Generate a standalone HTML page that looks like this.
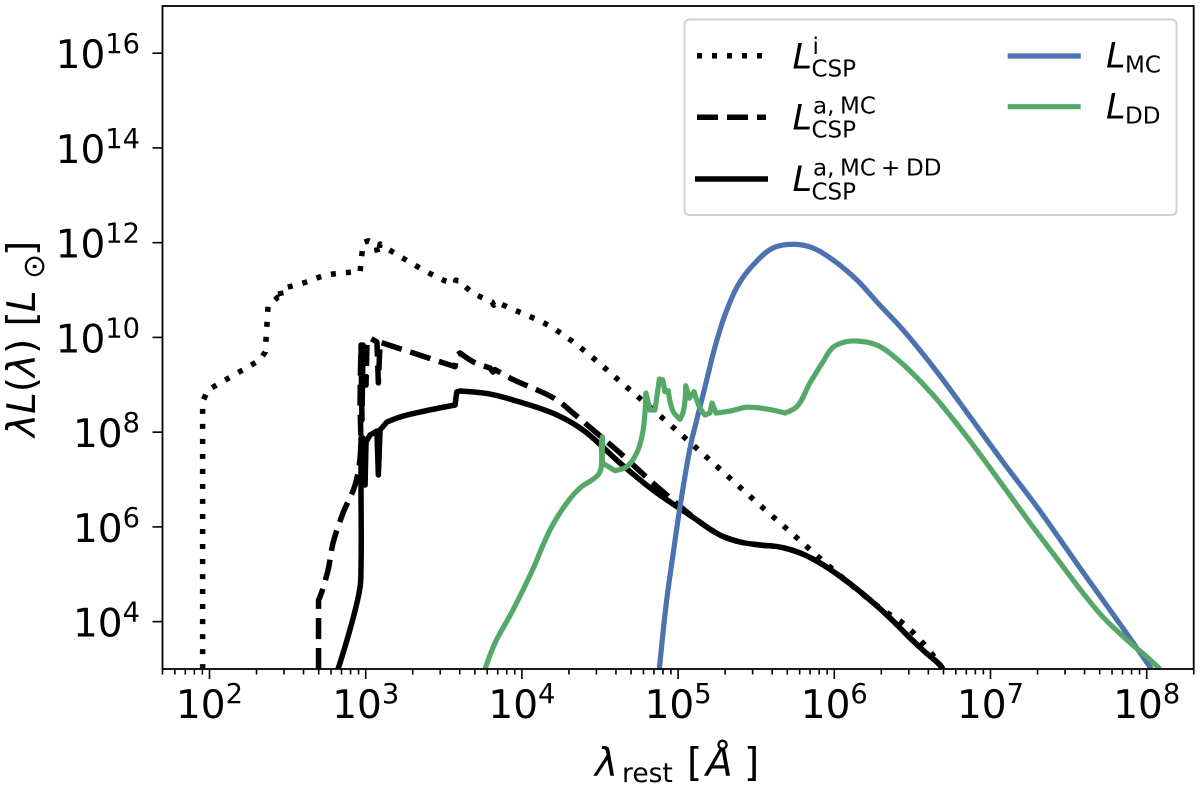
<!DOCTYPE html>
<html lang="en">
<head>
<meta charset="utf-8">
<title>Luminosity spectrum</title>
<style>
  html, body { margin: 0; padding: 0; background: #fff; }
  svg { display: block; font-family: "DejaVu Sans", "Liberation Sans", sans-serif; fill: #000; }
  .curve { fill: none; stroke-linejoin: round; stroke-linecap: butt; }
  .i { font-style: italic; }
</style>
</head>
<body>
<svg id="chart" xmlns="http://www.w3.org/2000/svg" width="1200" height="788" viewBox="0 0 1200 788">
  <defs>
    <clipPath id="plot-clip"><rect x="162.5" y="6" width="1031.2" height="663"></rect></clipPath>
  </defs>
  <rect x="0" y="0" width="1200" height="788" fill="#fff"></rect>
  <g id="series" clip-path="url(#plot-clip)"></g>
  <g id="ticks"></g>
  <rect x="162.5" y="6" width="1031.2" height="663" fill="none" stroke="#000" stroke-width="1.8"></rect>

  <text x="595" y="776" font-size="39"><tspan class="i">λ</tspan><tspan x="622" y="782" font-size="26.5">rest</tspan><tspan x="687" y="776">[</tspan><tspan class="i" x="706" y="776">Å</tspan><tspan x="744" y="776">]</tspan></text>

  <g transform="translate(35,437) rotate(-90)" font-size="39">
    <text x="0" y="0"><tspan class="i">λL</tspan>(<tspan class="i">λ</tspan>)<tspan x="110.5" y="0">[</tspan><tspan class="i" x="125" y="0">L</tspan><tspan x="158" y="9" font-size="30">⊙</tspan><tspan x="181" y="0">]</tspan></text>
  </g>

  <g>
    <rect x="684.5" y="19.5" width="492" height="195.5" rx="5" ry="5" fill="#fff" fill-opacity="0.9" stroke="#d0d0d0" stroke-width="2"></rect>

    <g>
      <line x1="697" y1="55.7" x2="764" y2="55.7" stroke="#000" stroke-width="5.5" stroke-dasharray="5 10"></line>
      <text x="792.5" y="68.3" font-size="35" class="i">L</text>
      <text x="812.5" y="54" font-size="23">i</text>
      <text x="811.5" y="76.7" font-size="23">CSP</text>
    </g>
    <g>
      <line x1="697" y1="117.3" x2="766" y2="117.3" stroke="#000" stroke-width="5.5" stroke-dasharray="21 9"></line>
      <text x="792.5" y="129.3" font-size="35" class="i">L</text>
      <text x="813" y="113.3" font-size="23">a,<tspan x="840">MC</tspan></text>
      <text x="811.5" y="137.3" font-size="23">CSP</text>
    </g>
    <g>
      <line x1="695" y1="179" x2="768" y2="179" stroke="#000" stroke-width="5.5"></line>
      <text x="792.5" y="191" font-size="35" class="i">L</text>
      <text x="813" y="175.7" font-size="23">a,<tspan x="840">MC</tspan><tspan x="881">+</tspan><tspan x="906">DD</tspan></text>
      <text x="811.5" y="199.3" font-size="23">CSP</text>
    </g>
    <g>
      <line x1="1007.7" y1="56" x2="1080.7" y2="56" stroke="#4C72B0" stroke-width="5.2"></line>
      <text x="1106" y="67.3" font-size="35" class="i">L</text>
      <text x="1125" y="72.3" font-size="23">MC</text>
    </g>
    <g>
      <line x1="1007.7" y1="106.7" x2="1080.7" y2="106.7" stroke="#55A868" stroke-width="5.2"></line>
      <text x="1106" y="118.3" font-size="35" class="i">L</text>
      <text x="1125" y="123.3" font-size="23">DD</text>
    </g>
  </g>

<script>
// Values are log10(wavelength / Angstrom) and log10(luminosity / Lsun).
var xTickExponents = [2, 3, 4, 5, 6, 7, 8];
var yTickExponents = [4, 6, 8, 10, 12, 14, 16];
var minorMultipliers = [2, 3, 4, 5, 6, 7, 8, 9];
var minorDecades = [1, 2, 3, 4, 5, 6, 7, 8];

var intrinsicLogWave = [1.956,1.956,1.990,2.323,2.357,2.375,2.419,2.437,2.465,2.451,2.599,2.752,2.964,2.974,2.985,3.017,3.066,3.079,3.092,3.497,3.572,3.578,3.604,3.687,3.809,3.820,3.834,3.924,4.199,4.737,5.160,5.588,6.293,6.453,6.677,6.690];
var intrinsicLogLum  = [3.000,8.643,8.890,9.523,9.692,10.663,10.790,10.850,10.770,11.020,11.149,11.318,11.387,11.704,12.000,12.040,11.950,11.740,11.970,11.210,11.130,11.210,11.176,10.940,10.750,10.680,10.750,10.620,10.197,8.763,7.539,6.272,4.288,3.929,3.084,3.000];

var attenMcLogWave = [2.698,2.698,2.707,2.759,2.791,2.855,2.932,2.964,2.964,2.970,2.976,2.983,3.002,3.008,3.028,3.072,3.081,3.092,3.572,3.583,3.604,3.687,3.796,3.815,3.828,3.924,4.225,4.327,4.628,4.839,5.121,5.204,5.281,5.396,5.524,5.652,5.781,5.909,6.069,6.229,6.357,6.485,6.581,6.677,6.696];
var attenMcLogLum  = [3.000,4.457,4.520,5.090,5.660,6.293,6.884,7.454,8.679,9.840,8.256,9.840,8.995,9.840,9.987,9.903,9.040,9.900,9.382,9.629,9.671,9.487,9.354,9.270,9.320,9.143,8.679,8.404,7.560,6.926,6.145,5.955,5.808,5.681,5.618,5.575,5.449,5.238,4.879,4.457,4.077,3.654,3.359,3.084,3.000];

var attenMcDdLogWave = [2.823,2.964,2.970,2.970,2.970,2.976,2.983,2.996,3.002,3.028,3.072,3.081,3.092,3.136,3.220,3.348,3.572,3.583,3.604,3.796,3.943,4.225,4.391,4.628,4.839,5.121,5.204,5.281,5.396,5.524,5.652,5.781,5.909,6.069,6.229,6.357,6.485,6.581,6.677,6.696];
var attenMcDdLogLum  = [3.000,4.731,5.153,6.779,7.877,6.884,7.877,6.884,7.792,7.940,8.024,7.095,8.045,8.214,8.320,8.425,8.573,8.848,8.869,8.805,8.679,8.362,8.045,7.349,6.779,6.145,5.955,5.808,5.681,5.618,5.575,5.449,5.238,4.879,4.457,4.077,3.654,3.359,3.084,3.000];

var mcLogWave = [4.880,4.927,4.969,5.012,5.087,5.108,5.172,5.236,5.300,5.384,5.480,5.608,5.736,5.864,5.992,6.145,6.273,6.440,6.658,6.870,7.080,7.298,7.573,7.701,7.874,8.030];
var mcLogLum  = [3.000,4.457,5.449,6.420,7.834,8.109,8.953,9.797,10.473,11.106,11.528,11.887,11.966,11.887,11.634,11.212,10.748,10.157,9.270,8.320,7.370,6.420,5.132,4.541,3.739,3.000];

var ddLogWave = [3.764,3.828,3.943,4.063,4.180,4.287,4.372,4.487,4.504,4.511,4.515,4.515,4.596,4.671,4.735,4.773,4.794,4.820,4.852,4.880,4.902,4.916,4.937,4.969,5.012,5.033,5.049,5.072,5.102,5.140,5.172,5.204,5.217,5.243,5.332,5.439,5.567,5.684,5.759,5.844,5.928,5.992,6.068,6.143,6.271,6.421,6.632,6.848,7.061,7.272,7.432,7.592,7.720,7.874,8.002,8.085];
var ddLogLum  = [3.000,3.549,4.246,5.054,5.934,6.504,6.821,7.095,7.201,7.834,7.898,7.349,7.186,7.271,7.560,7.982,8.826,8.468,8.468,9.122,9.101,8.854,8.875,8.432,8.271,8.432,8.980,8.715,8.854,8.510,8.362,8.404,8.615,8.404,8.446,8.525,8.489,8.404,8.537,9.038,9.487,9.791,9.903,9.924,9.840,9.487,8.784,7.904,6.954,5.998,5.301,4.604,4.098,3.612,3.253,3.000];

var SVG_NS = 'http://www.w3.org/2000/svg';
function xScale(logWave) { return 209.5 + (logWave - 2) * 156.2; }
function yScale(logLum) { return 669 - (logLum - 3) * 47.37; }

// Builds a path through the points: gentle bends are smoothed, sharp turns stay as corners.
function pathFrom(xs, ys, minCos) {
  var pts = xs.map(function (x, i) { return [xScale(x), yScale(ys[i])]; });
  function tangent(i) {
    if (i === 0 || i === pts.length - 1) return null;
    var ax = pts[i][0] - pts[i - 1][0], ay = pts[i][1] - pts[i - 1][1];
    var bx = pts[i + 1][0] - pts[i][0], by = pts[i + 1][1] - pts[i][1];
    var la = Math.hypot(ax, ay), lb = Math.hypot(bx, by);
    if (la === 0 || lb === 0) return null;
    if ((ax * bx + ay * by) / (la * lb) < minCos) return null;
    var tx = ax / la + bx / lb, ty = ay / la + by / lb, lt = Math.hypot(tx, ty);
    return [tx / lt, ty / lt];
  }
  var d = 'M' + pts[0][0].toFixed(2) + ' ' + pts[0][1].toFixed(2);
  for (var i = 0; i < pts.length - 1; i++) {
    var p = pts[i], q = pts[i + 1];
    var len = Math.hypot(q[0] - p[0], q[1] - p[1]) / 3;
    var t0 = tangent(i), t1 = tangent(i + 1);
    var c1x = t0 ? p[0] + t0[0] * len : p[0], c1y = t0 ? p[1] + t0[1] * len : p[1];
    var c2x = t1 ? q[0] - t1[0] * len : q[0], c2y = t1 ? q[1] - t1[1] * len : q[1];
    d += 'C' + c1x.toFixed(2) + ' ' + c1y.toFixed(2) + ' ' + c2x.toFixed(2) + ' ' + c2y.toFixed(2) + ' ' + q[0].toFixed(2) + ' ' + q[1].toFixed(2);
  }
  return d;
}

var seriesGroup = document.getElementById('series');
var tickGroup = document.getElementById('ticks');

function addCurve(name, xs, ys, color, width, dash, minCos) {
  var p = document.createElementNS(SVG_NS, 'path');
  
  
  p.setAttribute('class', 'curve');
  p.setAttribute('d', pathFrom(xs, ys, minCos));
  p.setAttribute('stroke', color);
  p.setAttribute('stroke-width', width);
  if (dash) p.setAttribute('stroke-dasharray', dash);
  seriesGroup.appendChild(p);
}

addCurve('curve-intrinsic-csp', intrinsicLogWave, intrinsicLogLum, '#000', 5.5, '5 10', 0.95);
addCurve('curve-attenuated-mc-csp', attenMcLogWave, attenMcLogLum, '#000', 5.5, '21 9', 0.95);
addCurve('curve-attenuated-mc-dd-csp', attenMcDdLogWave, attenMcDdLogLum, '#000', 5.5, null, 0.95);
addCurve('curve-mc', mcLogWave, mcLogLum, '#4C72B0', 5.2, null, 0.8);
addCurve('curve-dd', ddLogWave, ddLogLum, '#55A868', 5.2, null, 0.8);

function addTickLine(name, x1, y1, x2, y2) {
  var l = document.createElementNS(SVG_NS, 'line');
  
  
  l.setAttribute('x1', x1);
  l.setAttribute('y1', y1);
  l.setAttribute('x2', x2);
  l.setAttribute('y2', y2);
  l.setAttribute('stroke', '#000');
  l.setAttribute('stroke-width', '1.6');
  tickGroup.appendChild(l);
}

function addPowerLabel(name, x, y, anchor, exponent) {
  var t = document.createElementNS(SVG_NS, 'text');
  
  
  t.setAttribute('x', x);
  t.setAttribute('y', y);
  t.setAttribute('text-anchor', anchor);
  t.setAttribute('font-size', '39');
  var sup = document.createElementNS(SVG_NS, 'tspan');
  sup.setAttribute('dy', '-15');
  sup.setAttribute('font-size', '27.3');
  sup.textContent = String(exponent);
  t.appendChild(document.createTextNode('10'));
  t.appendChild(sup);
  tickGroup.appendChild(t);
}

xTickExponents.forEach(function (e) {
  var x = xScale(e);
  addTickLine('x-major-tick', x, 669, x, 679);
  addPowerLabel('x-tick-label', x, 718, 'middle', e);
});

minorDecades.forEach(function (d) {
  minorMultipliers.forEach(function (m) {
    var x = xScale(d + Math.log10(m));
    if (x >= 162 && x <= 1194) addTickLine('x-minor-tick', x, 669, x, 674.5);
  });
});

yTickExponents.forEach(function (e) {
  var y = yScale(e);
  addTickLine('y-major-tick', 152.5, y, 162.5, y);
  addPowerLabel('y-tick-label', 140, y + 15, 'end', e);
});
</script>
</svg>
</body>
</html>
